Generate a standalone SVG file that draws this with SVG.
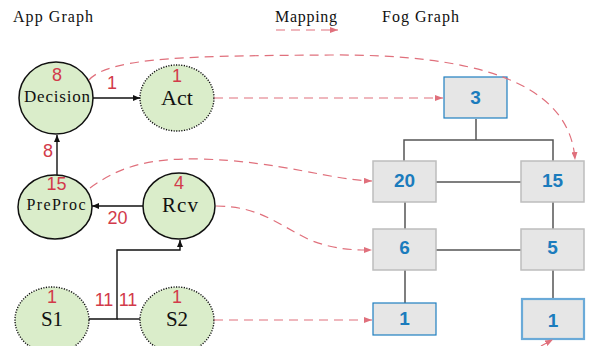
<svg xmlns="http://www.w3.org/2000/svg" width="593" height="346" viewBox="0 0 593 346">
  <defs>
    <marker id="ahBlack" markerWidth="7" markerHeight="6" refX="7" refY="3" orient="auto" markerUnits="userSpaceOnUse">
      <path d="M0,0 L7,3 L0,6 z" fill="#111"/>
    </marker>
    <marker id="ahRed" markerWidth="8" markerHeight="6" refX="8" refY="3" orient="auto" markerUnits="userSpaceOnUse">
      <path d="M0,0 L8,3 L0,6 z" fill="#e0707c"/>
    </marker>
  </defs>
  <style>
    .title { font-family: "Liberation Serif", "Times New Roman", serif; font-size: 16px; fill: #111; }
    .app { fill: #daedca; stroke: #111; stroke-width: 1.5; }
    .app.dot { stroke-dasharray: 1.2 1.4; stroke-width: 1.4; }
    .name { font-family: "Liberation Serif", "Times New Roman", serif; fill: #111; text-anchor: middle; }
    .w { font-family: "Liberation Sans", Arial, sans-serif; font-size: 18px; fill: #d23a4a; text-anchor: middle; }
    .edge { fill: none; stroke: #111; stroke-width: 1.4; }
    .map { fill: none; stroke: #e0707c; stroke-width: 1.2; stroke-dasharray: 9 6; }
    .fog { fill: #e6e6e6; stroke: #bdbdbd; stroke-width: 1.5; }
    .fog.leaf { stroke: #1f7fc0; stroke-width: 1.2; }
    .fog.leaf2 { stroke: #6aaad8; stroke-width: 2.2; }
    .fnum { font-family: "Liberation Sans", Arial, sans-serif; font-weight: bold; font-size: 19px; fill: #1b7cbd; text-anchor: middle; }
    .link { fill: none; stroke: #555; stroke-width: 1.5; }
  </style>

  <rect width="593" height="346" fill="#ffffff"/>

  <!-- legend -->
  <g id="legend">
    <text class="title" x="13" y="22" textLength="80">App Graph</text>
    <text class="title" x="275" y="22" textLength="62">Mapping</text>
    <text class="title" x="382" y="22" textLength="77">Fog Graph</text>
    <path class="map" d="M276,30 L338,30" stroke-dasharray="7 4" marker-end="url(#ahRed)"/>
  </g>

  <!-- fog topology links -->
  <g id="fog-links">
    <path class="link" d="M476,119 V140 M404,161 V140 H553 V161"/>
    <path class="link" d="M436,182 H521"/>
    <path class="link" d="M405,202 V229 M553,202 V229"/>
    <path class="link" d="M436,250 H521"/>
    <path class="link" d="M405,270 V303 M553,270 V299"/>
  </g>

  <!-- fog nodes -->
  <g id="fog-3"><rect class="fog leaf" x="444" y="77" width="63" height="41"/><text class="fnum" x="475.5" y="104">3</text></g>
  <g id="fog-20"><rect class="fog" x="373" y="161" width="63" height="41"/><text class="fnum" x="404.5" y="186.5">20</text></g>
  <g id="fog-15"><rect class="fog" x="521" y="161" width="63" height="41"/><text class="fnum" x="552.5" y="186.5">15</text></g>
  <g id="fog-6"><rect class="fog" x="373" y="229" width="63" height="41"/><text class="fnum" x="404.5" y="254">6</text></g>
  <g id="fog-5"><rect class="fog" x="521" y="229" width="63" height="41"/><text class="fnum" x="552.5" y="254">5</text></g>
  <g id="fog-1a"><rect class="fog leaf" x="373" y="303" width="63" height="32"/><text class="fnum" x="404.5" y="325">1</text></g>
  <g id="fog-1b"><rect class="fog leaf2" x="522" y="299" width="62" height="40"/><text class="fnum" x="553" y="327">1</text></g>

  <!-- app graph connectors -->
  <g id="app-edges">
    <path class="edge" d="M93,98 H140" marker-end="url(#ahBlack)"/>
    <path class="edge" d="M57,175 V135" marker-end="url(#ahBlack)"/>
    <path class="edge" d="M143,206 H92" marker-end="url(#ahBlack)"/>
    <path class="edge" d="M89,319 H117 V250 H180 V240" marker-end="url(#ahBlack)"/>
    <path class="edge" d="M140,319 H117"/>
    <text class="w" x="112" y="89">1</text>
    <text class="w" x="48" y="157">8</text>
    <text class="w" x="117.5" y="224">20</text>
    <text class="w" x="104" y="306">11</text>
    <text class="w" x="128" y="306">11</text>
  </g>

  <!-- app graph nodes -->
  <g id="decision">
    <ellipse class="app" cx="56" cy="98" rx="37" ry="36"/>
    <text class="w" x="57" y="81">8</text>
    <text class="name" x="57" y="102" font-size="17" textLength="66">Decision</text>
  </g>
  <g id="act">
    <ellipse class="app dot" cx="177" cy="98" rx="37" ry="33"/>
    <text class="w" x="177" y="81.5">1</text>
    <text class="name" x="177" y="104.5" font-size="22">Act</text>
  </g>
  <g id="preproc">
    <ellipse class="app" cx="55" cy="207" rx="37" ry="32"/>
    <text class="w" x="56.5" y="189.5">15</text>
    <text class="name" x="56" y="209.5" font-size="16" textLength="59">PreProc</text>
  </g>
  <g id="rcv">
    <ellipse class="app" cx="179" cy="206" rx="36" ry="33"/>
    <text class="w" x="179" y="189">4</text>
    <text class="name" x="180" y="212" font-size="21" textLength="36">Rcv</text>
  </g>
  <g id="s1">
    <ellipse class="app dot" cx="52" cy="320" rx="37" ry="33"/>
    <text class="w" x="52" y="302.8">1</text>
    <text class="name" x="52" y="325.5" font-size="21">S1</text>
  </g>
  <g id="s2">
    <ellipse class="app dot" cx="177" cy="320" rx="37" ry="33"/>
    <text class="w" x="177" y="302.8">1</text>
    <text class="name" x="177" y="325.5" font-size="21">S2</text>
  </g>

  <!-- mapping connectors -->
  <g id="mapping">
    <path class="map" d="M89,80 C110,56 200,56 330,55 C470,54 570,80 575,160" marker-end="url(#ahRed)"/>
    <path class="map" d="M214,98 H443" marker-end="url(#ahRed)"/>
    <path class="map" d="M90,188 C120,166 150,158 200,159 C280,161 330,180 372,181" marker-end="url(#ahRed)"/>
    <path class="map" d="M216,206 C260,206 280,226 310,240 C335,250 355,250 372,250" marker-end="url(#ahRed)"/>
    <path class="map" d="M214,320 H372" marker-end="url(#ahRed)"/>
    <path class="map" d="M541,346 L553,339.5" marker-end="url(#ahRed)"/>
  </g>
</svg>
